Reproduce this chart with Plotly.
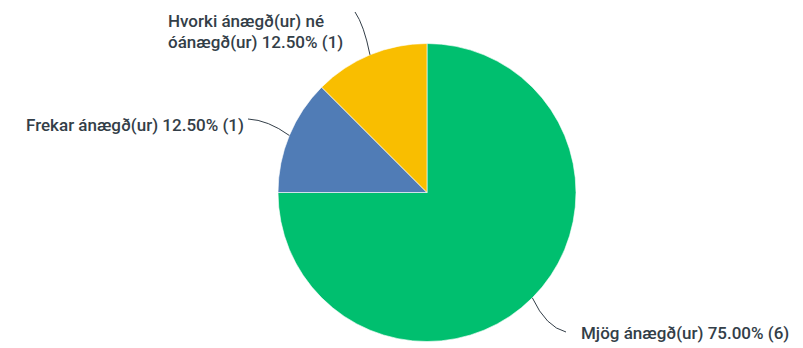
import math
import plotly.graph_objects as go

W, H = 803, 348

etiketter = ["Mjög ánægð(ur)", "Frekar ánægð(ur)", "Hvorki ánægð(ur) né óánægð(ur)"]
fjoldi = [6, 1, 1]
litir = ["#00bf6f", "#507cb6", "#f9be00"]

# pie geometry in pixels (domain set from this)
cx, cy, R = 427, 192.5, 149


def px(x):
    return x / W


def py(y):
    return 1 - y / H


fig = go.Figure(go.Pie(
    labels=etiketter,
    values=fjoldi,
    sort=False,
    direction="clockwise",
    rotation=0,
    textinfo="none",
    hoverinfo="label+percent+value",
    marker=dict(colors=litir, line=dict(color="white", width=0.6)),
    domain=dict(x=[px(cx - 200), px(cx + 200)], y=[py(cy + R), py(cy - R)]),
    showlegend=False,
))

# leader point on slice edge, computed from data
total = sum(fjoldi)
heads = []
acc = 0
for v in fjoldi:
    m = (acc + v / 2) / total
    th = 2 * math.pi * m
    heads.append((cx + R * math.sin(th), cy - R * math.cos(th)))
    acc += v

# leader curves: start, control point, end on the slice
starts = [(566, 332), (248, 119), (355, 12)]
ctrls = [(546, 327), (268, 120), (364, 25)]
for (hx, hy), (sx, sy), (qx, qy) in zip(heads, starts, ctrls):
    fig.add_shape(
        type="path", xref="paper", yref="paper",
        path=f"M {px(sx)},{py(sy)} Q {px(qx)},{py(qy)} {px(hx)},{py(hy)}",
        line=dict(color="#333e48", width=1),
    )

font = dict(family="Roboto", size=17, color="#333e48", weight=500)
pct = [f"{v / total * 100:.2f}% ({v})" for v in fjoldi]
texts = [
    (f"{etiketter[0]} {pct[0]}", 579, 333),
    (f"{etiketter[1]} {pct[1]}", 24, 125),
    ("Hvorki ánægð(ur) né", 166, 21),
    (f"óánægð(ur) {pct[2]}", 166, 42),
]
for t, x, y in texts:
    fig.add_annotation(x=px(x), y=py(y), xref="paper", yref="paper",
                       text=t, showarrow=False, xanchor="left", yanchor="middle",
                       font=font)

fig.update_layout(
    width=W, height=H,
    margin=dict(l=0, r=0, t=0, b=0),
    paper_bgcolor="white",
    plot_bgcolor="white",
)

fig.write_html("out.html", config={"displayModeBar": False},
               post_script="document.body.style.margin='0';")
